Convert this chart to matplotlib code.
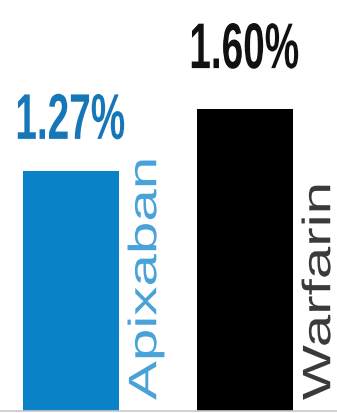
import matplotlib
matplotlib.use("Agg")
import matplotlib.pyplot as plt
from matplotlib import transforms
from matplotlib.font_manager import FontProperties
from matplotlib.patches import PathPatch
from matplotlib.textpath import TextPath

drugs = ["Apixaban", "Warfarin"]
rates = [1.27, 1.60]
value_labels = ["1.27%", "1.60%"]

bar_colors = ["#0a82c8", "#000000"]
value_colors = ["#1776b8", "#111111"]
name_colors = ["#4aa3d8", "#3a3a3a"]


def squeezed_text(ax, x, y, s, size, squeeze, color, weight="normal",
                  rotate=False, dy=0):
    """Text drawn as a path, narrowed horizontally by `squeeze`."""
    prop = FontProperties(family="Liberation Sans", weight=weight)
    path = TextPath((0, 0), s, size=size, prop=prop)
    ext = path.get_extents()
    tr = transforms.Affine2D()
    if rotate:
        # word starts at the anchor and reads upward, baseline on the right
        tr.translate(-ext.x0, 0).rotate_deg(90)
    else:
        tr.translate(-(ext.x0 + ext.x1) / 2, -ext.y0)
    tr.scale(squeeze, 1).translate(0, dy).scale(1 / 72)
    tr = tr + ax.figure.dpi_scale_trans + transforms.ScaledTranslation(x, y, ax.transData)
    ax.add_patch(PathPatch(path, transform=tr, facecolor=color,
                           edgecolor="none", clip_on=False))


fig = plt.figure(figsize=(3.37, 4.14), dpi=100)
ax = fig.add_axes([0, 0, 1, 1])
ax.set_xlim(-0.408, 1.529)
ax.set_ylim(-0.0106, 2.183)
ax.axis("off")

pos = list(range(len(drugs)))
ax.bar(pos, rates, width=0.552, color=bar_colors)
ax.axhline(0, color="#c8c8c8", lw=1.2)

label_pad = [23, 29]
for i in pos:
    squeezed_text(ax, i, rates[i], value_labels[i], 46.5, 0.6,
                  value_colors[i], weight="bold", dy=label_pad[i])
    squeezed_text(ax, i + 0.49, 0, drugs[i], 42, 0.68, name_colors[i],
                  rotate=True, dy=8)

fig.savefig("out.png", dpi=100)
